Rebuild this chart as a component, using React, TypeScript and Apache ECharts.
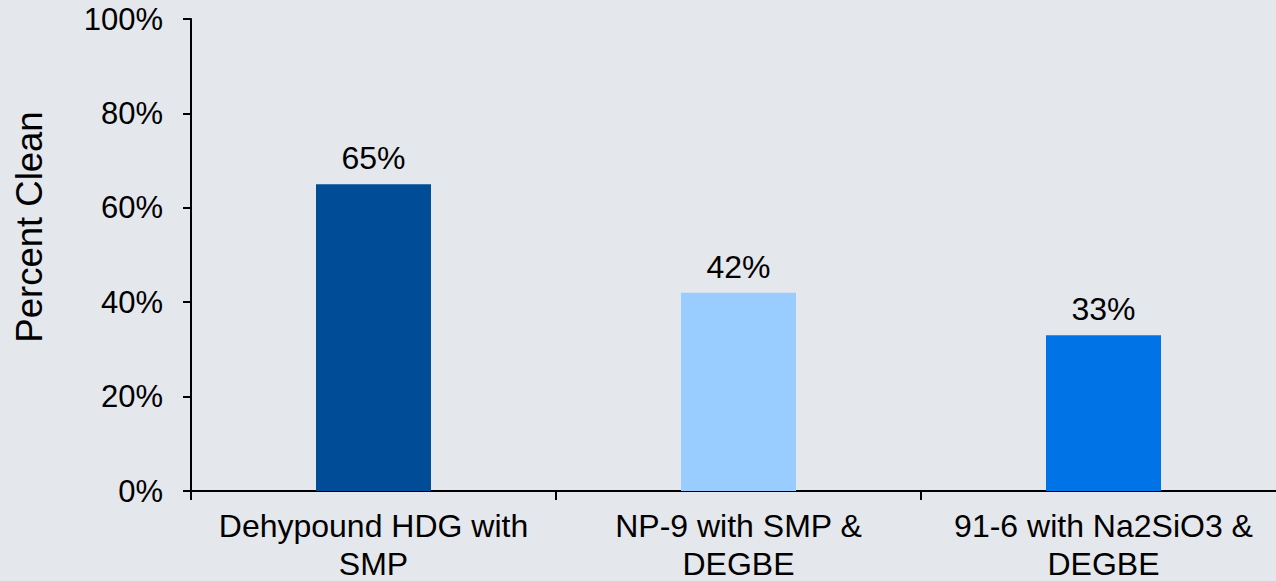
import React, { useEffect, useRef } from "react";
import * as echarts from "echarts";

const categories = ["Dehypound HDG with\nSMP", "NP-9 with SMP &\nDEGBE", "91-6 with Na2SiO3 &\nDEGBE"];
const values = [65, 42, 33];
const barColors = ["#004C97", "#99CCFF", "#0073E6"];
const yTicks = [0, 20, 40, 60, 80, 100];
const yAxisTitle = "Percent Clean";

export default function App() {
  const ref = useRef<HTMLDivElement>(null);
  useEffect(() => {
    if (!ref.current) return;
    const chart = echarts.init(ref.current, null, { renderer: "svg" });
    const font = "'Liberation Sans', Arial, sans-serif";
    chart.setOption({
      animation: false,
      backgroundColor: "#E4E7EC",
      grid: {
        left: 191,
        top: 19,
        bottom: 90,
        width: 1095,
        containLabel: false,
        outerBoundsMode: "none",
      },
      xAxis: {
        type: "category",
        data: categories,
        boundaryGap: true,
        axisLine: { lineStyle: { color: "#000", width: 2 } },
        axisTick: { show: true, length: 9, lineStyle: { color: "#000", width: 2 } },
        axisLabel: {
          color: "#000",
          fontFamily: font,
          fontSize: 32,
          lineHeight: 38,
          margin: 16,
          interval: 0,
        },
      },
      yAxis: {
        type: "value",
        min: yTicks[0],
        max: yTicks[yTicks.length - 1],
        interval: 20,
        name: yAxisTitle,
        nameLocation: "middle",
        nameGap: 143,
        nameRotate: 90,
        nameTextStyle: { color: "#000", fontFamily: font, fontSize: 36.5, padding: [0, 0, 0, 56] },
        splitLine: { show: false },
        axisLine: { show: true, lineStyle: { color: "#000", width: 2 } },
        axisTick: { show: true, length: 8, lineStyle: { color: "#000", width: 2 } },
        axisLabel: {
          color: "#000",
          fontFamily: font,
          fontSize: 31,
          margin: 28,
          formatter: (v: number) => v + "%",
        },
      },
      series: [
        {
          type: "bar",
          barWidth: 115,
          data: values.map((v, i) => ({ value: v, itemStyle: { color: barColors[i] } })),
          label: {
            show: true,
            position: "top",
            distance: 10,
            color: "#000",
            fontFamily: font,
            fontSize: 32,
            formatter: (p: any) => p.value + "%",
          },
        },
      ],
    });
    return () => chart.dispose();
  }, []);
  return (
    <div
      ref={ref}
      style={{ position: "fixed", left: 0, top: 0, width: 1276, height: 581 }}
    />
  );
}
